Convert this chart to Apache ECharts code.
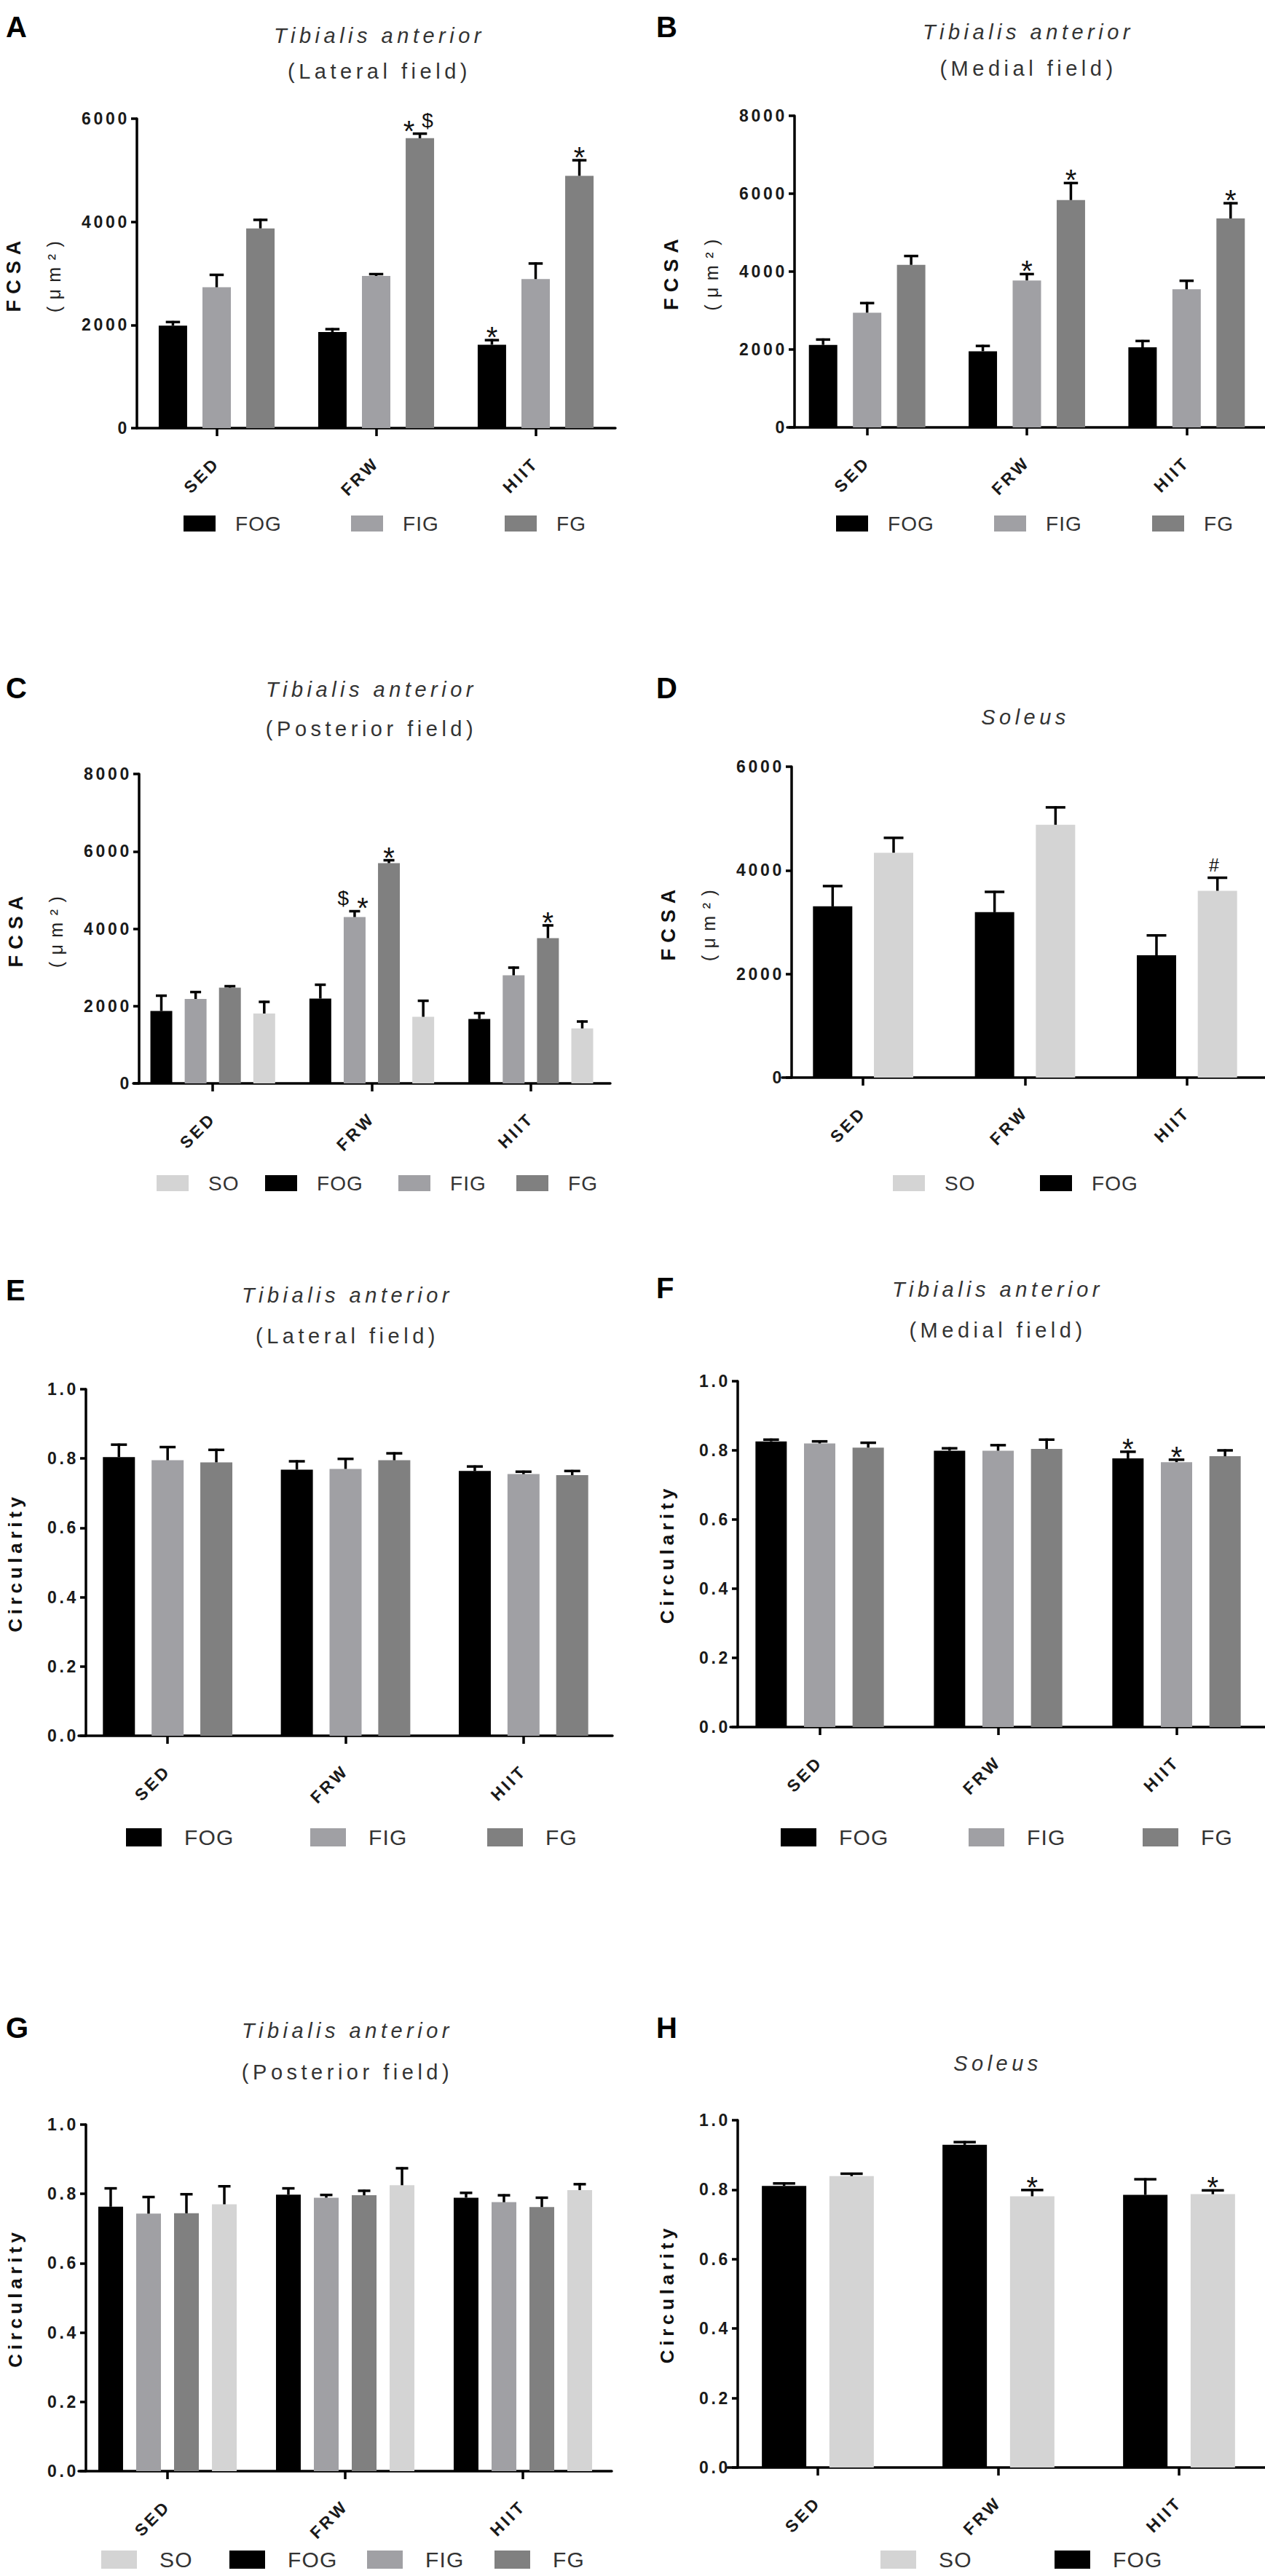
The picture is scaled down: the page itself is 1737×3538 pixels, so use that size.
<!DOCTYPE html>
<html>
<head>
<meta charset="utf-8">
<script src="https://cdn.jsdelivr.net/npm/echarts@6/dist/echarts.min.js"></script>
<style>
html,body{margin:0;padding:0;background:#fff;}
#chart{width:1737px;height:3538px;}
#chart text{letter-spacing:0.16em;}
#chart text[style*="29px"]{letter-spacing:0.19em;}
#chart text[style*="28px"]{letter-spacing:0.04em;}
#chart text[style*="30px"]{letter-spacing:0.04em;}
#chart text[style*="27px"]{letter-spacing:0.3em;}
#chart text[style*="25px"]{letter-spacing:0.38em;}
#chart text[style*="26px"]{letter-spacing:0.22em;}
#chart text[style*="40px"]{letter-spacing:0;}
</style>
</head>
<body>
<div id="chart"></div>
<script>
// ---------- data ----------
const categories = ['SED', 'FRW', 'HIIT'];
const ticksFCSA6000 = [0, 2000, 4000, 6000];
const ticksFCSA8000 = [0, 2000, 4000, 6000, 8000];
const ticksCirc = [0, 0.2, 0.4, 0.6, 0.8, 1.0];

// A: FCSA, Tibialis anterior lateral field
const A_FOG = [1988, 1864, 1617], A_FOG_err = [69, 55, 89], A_FOG_sig = ['', '', '*'];
const A_FIG = [2731, 2951, 2890], A_FIG_err = [241, 35, 302], A_FIG_sig = ['', '', ''];
const A_FG  = [3873, 5621, 4892], A_FG_err  = [165, 89, 302], A_FG_sig  = ['', '* $', '*'];

// B: FCSA, medial field
const B_FOG = [2118, 1955, 2055], B_FOG_err = [137, 136, 163], B_FOG_sig = ['', '', ''];
const B_FIG = [2945, 3773, 3545], B_FIG_err = [246, 163, 219], B_FIG_sig = ['', '*', ''];
const B_FG  = [4173, 5836, 5364], B_FG_err  = [227, 437, 391], B_FG_sig  = ['', '*', '*'];

// C: FCSA, posterior field
const C_FOG = [1873, 2193, 1666], C_FOG_err = [395, 358, 150], C_FOG_sig = ['', '', ''];
const C_FIG = [2184, 4301, 2795], C_FIG_err = [178, 151, 198], C_FIG_sig = ['', '$ *', ''];
const C_FG  = [2475, 5694, 3755], C_FG_err  = [38, 75, 330],   C_FG_sig  = ['', '*', '*'];
const C_SO  = [1807, 1722, 1421], C_SO_err  = [301, 414, 179], C_SO_sig  = ['', '', ''];

// D: FCSA, Soleus
const D_FOG = [3304, 3192, 2359], D_FOG_err = [392, 392, 385], D_FOG_sig = ['', '', ''];
const D_SO  = [4340, 4879, 3605], D_SO_err  = [287, 336, 252], D_SO_sig  = ['', '', '#'];

// E: Circularity, lateral field
const E_FOG = [0.804, 0.768, 0.764], E_FOG_err = [0.036, 0.024, 0.013], E_FOG_sig = ['', '', ''];
const E_FIG = [0.795, 0.770, 0.755], E_FIG_err = [0.038, 0.029, 0.007], E_FIG_sig = ['', '', ''];
const E_FG  = [0.789, 0.795, 0.752], E_FG_err  = [0.036, 0.020, 0.012], E_FG_sig  = ['', '', ''];

// F: Circularity, medial field
const F_FOG = [0.826, 0.799, 0.777], F_FOG_err = [0.005, 0.007, 0.019], F_FOG_sig = ['', '', '*'];
const F_FIG = [0.820, 0.799, 0.766], F_FIG_err = [0.006, 0.016, 0.007], F_FIG_sig = ['', '', '*'];
const F_FG  = [0.808, 0.804, 0.783], F_FG_err  = [0.014, 0.027, 0.017], F_FG_sig  = ['', '', ''];

// G: Circularity, posterior field
const G_FOG = [0.763, 0.798, 0.789], G_FOG_err = [0.053, 0.018, 0.014], G_FOG_sig = ['', '', ''];
const G_FIG = [0.743, 0.789, 0.776], G_FIG_err = [0.048, 0.008, 0.020], G_FIG_sig = ['', '', ''];
const G_FG  = [0.744, 0.796, 0.762], G_FG_err  = [0.055, 0.013, 0.027], G_FG_sig  = ['', '', ''];
const G_SO  = [0.770, 0.825, 0.811], G_SO_err  = [0.052, 0.049, 0.017], G_SO_sig  = ['', '', ''];

// H: Circularity, Soleus
const H_FOG = [0.811, 0.929, 0.785], H_FOG_err = [0.007, 0.008, 0.045], H_FOG_sig = ['', '', ''];
const H_SO  = [0.839, 0.781, 0.787], H_SO_err  = [0.007, 0.018, 0.011], H_SO_sig  = ['', '*', '*'];

// ---------- styles / layout ----------
const COLORS = { SO: '#d4d4d4', FOG: '#000000', FIG: '#a0a0a4', FG: '#808080' };
const FONT = "'Liberation Sans', Arial, Helvetica, sans-serif";
const SIG_STYLE = { '*': { size: 40, dy: -4 }, '$': { size: 28, dy: -18 }, '#': { size: 25, dy: -18 } };
const LEG_SMALL = { w: 44, h: 22, font: 28, pad: 22 };
const LEG_LARGE = { w: 49, h: 25, font: 30, pad: 26 };

const panels = [
  { letter: 'A', title: 'Tibialis anterior', sub: '(Lateral field)', kind: 'fcsa', ticks: ticksFCSA6000,
    series: [['FOG', A_FOG, A_FOG_err, A_FOG_sig], ['FIG', A_FIG, A_FIG_err, A_FIG_sig], ['FG', A_FG, A_FG_err, A_FG_sig]],
    legend: ['FOG', 'FIG', 'FG'],
    layout: { grid: { left: 188, top: 163, width: 657, height: 425 }, yOffset: 0, barWidth: 39, barGap: 0.54,
      titleX: 521, titleY: [49, 97], letterPos: [8, 17], legendY: 716, legendX: [252, 482, 693], leg: LEG_SMALL } },
  { letter: 'B', title: 'Tibialis anterior', sub: '(Medial field)', kind: 'fcsa', ticks: ticksFCSA8000,
    series: [['FOG', B_FOG, B_FOG_err, B_FOG_sig], ['FIG', B_FIG, B_FIG_err, B_FIG_sig], ['FG', B_FG, B_FG_err, B_FG_sig]],
    legend: ['FOG', 'FIG', 'FG'],
    layout: { grid: { left: 1081, top: 159, width: 658, height: 428 }, yOffset: -10, barWidth: 39, barGap: 0.55,
      titleX: 1412, titleY: [44, 93], letterPos: [901, 17], legendY: 716, legendX: [1148, 1365, 1582], leg: LEG_SMALL } },
  { letter: 'C', title: 'Tibialis anterior', sub: '(Posterior field)', kind: 'fcsa', ticks: ticksFCSA8000,
    series: [['FOG', C_FOG, C_FOG_err, C_FOG_sig], ['FIG', C_FIG, C_FIG_err, C_FIG_sig], ['FG', C_FG, C_FG_err, C_FG_sig], ['SO', C_SO, C_SO_err, C_SO_sig]],
    legend: ['SO', 'FOG', 'FIG', 'FG'],
    layout: { grid: { left: 183, top: 1063, width: 655, height: 425 }, yOffset: -8, barWidth: 30, barGap: 0.57,
      titleX: 510, titleY: [947, 1000], letterPos: [8, 925], legendY: 1622, legendX: [215, 364, 547, 709], leg: LEG_SMALL } },
  { letter: 'D', title: 'Soleus', sub: '', kind: 'fcsa', ticks: ticksFCSA6000,
    series: [['FOG', D_FOG, D_FOG_err, D_FOG_sig], ['SO', D_SO, D_SO_err, D_SO_sig]],
    legend: ['SO', 'FOG'],
    layout: { grid: { left: 1074, top: 1053, width: 667, height: 427 }, yOffset: -13, barWidth: 54, barGap: 0.55,
      titleX: 1408, titleY: [985], letterPos: [901, 925], legendY: 1622, legendX: [1226, 1428], leg: LEG_SMALL } },
  { letter: 'E', title: 'Tibialis anterior', sub: '(Lateral field)', kind: 'circ', ticks: ticksCirc,
    series: [['FOG', E_FOG, E_FOG_err, E_FOG_sig], ['FIG', E_FIG, E_FIG_err, E_FIG_sig], ['FG', E_FG, E_FG_err, E_FG_sig]],
    legend: ['FOG', 'FIG', 'FG'],
    layout: { grid: { left: 108, top: 1908, width: 733, height: 476 }, yOffset: -10, barWidth: 44, barGap: 0.52,
      titleX: 477, titleY: [1779, 1834], letterPos: [8, 1752], legendY: 2521, legendX: [173, 426, 669], leg: LEG_LARGE } },
  { letter: 'F', title: 'Tibialis anterior', sub: '(Medial field)', kind: 'circ', ticks: ticksCirc,
    series: [['FOG', F_FOG, F_FOG_err, F_FOG_sig], ['FIG', F_FIG, F_FIG_err, F_FIG_sig], ['FG', F_FG, F_FG_err, F_FG_sig]],
    legend: ['FOG', 'FIG', 'FG'],
    layout: { grid: { left: 1003, top: 1897, width: 735, height: 475 }, yOffset: -10, barWidth: 43, barGap: 0.55,
      titleX: 1370, titleY: [1771, 1826], letterPos: [901, 1749], legendY: 2521, legendX: [1072, 1330, 1569], leg: LEG_LARGE } },
  { letter: 'G', title: 'Tibialis anterior', sub: '(Posterior field)', kind: 'circ', ticks: ticksCirc,
    series: [['FOG', G_FOG, G_FOG_err, G_FOG_sig], ['FIG', G_FIG, G_FIG_err, G_FIG_sig], ['FG', G_FG, G_FG_err, G_FG_sig], ['SO', G_SO, G_SO_err, G_SO_sig]],
    legend: ['SO', 'FOG', 'FIG', 'FG'],
    layout: { grid: { left: 108, top: 2918, width: 732, height: 476 }, yOffset: -10, barWidth: 34, barGap: 0.53,
      titleX: 477, titleY: [2789, 2845], letterPos: [8, 2765], legendY: 3513, legendX: [139, 315, 504, 679], leg: LEG_LARGE } },
  { letter: 'H', title: 'Soleus', sub: '', kind: 'circ', ticks: ticksCirc,
    series: [['FOG', H_FOG, H_FOG_err, H_FOG_sig], ['SO', H_SO, H_SO_err, H_SO_sig]],
    legend: ['SO', 'FOG'],
    layout: { grid: { left: 999, top: 2912, width: 744, height: 477 }, yOffset: -14, barWidth: 61, barGap: 0.52,
      titleX: 1370, titleY: [2834], letterPos: [901, 2765], legendY: 3513, legendX: [1209, 1448], leg: LEG_LARGE } }
];

// ---------- build option ----------
const option = {
  animation: false,
  backgroundColor: '#ffffff',
  textStyle: { fontFamily: FONT },
  title: [], legend: [], grid: [], xAxis: [], yAxis: [], series: []
};

panels.forEach((p, pi) => {
  const L = p.layout;
  option.grid.push(Object.assign({ containLabel: false, outerBoundsMode: 'none' }, L.grid));

  option.title.push({
    text: p.letter, left: L.letterPos[0], top: L.letterPos[1], padding: 0,
    textStyle: { fontSize: 40, fontWeight: 'bold', color: '#000', fontFamily: FONT, lineHeight: 40 }
  });
  const t = {
    text: p.title, left: L.titleX, top: L.titleY[0] - 14, padding: 0, textAlign: 'center',
    textStyle: { fontSize: 29, fontStyle: 'italic', fontWeight: 'normal', color: '#333', fontFamily: FONT, lineHeight: 28 }
  };
  if (p.sub) {
    t.subtext = p.sub;
    t.itemGap = L.titleY[1] - L.titleY[0] - 28;
    t.subtextStyle = { fontSize: 29, color: '#333', fontFamily: FONT, lineHeight: 28 };
  }
  option.title.push(t);

  const lg = L.leg;
  p.legend.forEach((nm, j) => {
    option.legend.push({
      data: [nm], left: L.legendX[j], top: L.legendY - lg.h / 2, padding: 0,
      icon: 'rect', itemWidth: lg.w, itemHeight: lg.h, selectedMode: false,
      textStyle: { fontSize: lg.font, color: '#333', fontFamily: FONT, padding: [0, 0, 0, lg.pad] }
    });
  });

  option.xAxis.push({
    type: 'category', gridIndex: pi, data: categories,
    axisLine: { show: true, lineStyle: { color: '#000', width: 3.5 } },
    axisTick: { show: true, alignWithLabel: true, length: 11, lineStyle: { color: '#000', width: 3.5 } },
    axisLabel: { interval: 0, rotate: 45, margin: 44, fontSize: 23, fontWeight: 'bold', color: '#1a1a1a', fontFamily: FONT },
    splitLine: { show: false }
  });

  const isF = p.kind === 'fcsa';
  const y = {
    type: 'value', gridIndex: pi, offset: L.yOffset,
    min: p.ticks[0], max: p.ticks[p.ticks.length - 1], interval: p.ticks[1] - p.ticks[0],
    axisLine: { show: true, lineStyle: { color: '#000', width: 3.5 } },
    axisTick: { show: true, length: 8, lineStyle: { color: '#000', width: 3.5 } },
    splitLine: { show: false },
    axisLabel: { fontSize: 23, fontWeight: 'bold', color: '#1a1a1a', margin: 10, fontFamily: FONT,
      formatter: isF ? (v => String(v)) : (v => v.toFixed(1)) },
    nameLocation: 'middle', nameRotate: 90
  };
  if (isF) {
    y.name = '{b|FCSA}\n{n|(\u03BCm\u00B2)}';
    y.nameGap = 88;
    y.nameTextStyle = { rich: {
      b: { fontSize: 27, fontWeight: 'bold', color: '#111', lineHeight: 58, fontFamily: FONT },
      n: { fontSize: 25, fontWeight: 'normal', color: '#222', lineHeight: 52, fontFamily: FONT }
    } };
  } else {
    y.name = 'Circularity';
    y.nameGap = 84;
    y.nameTextStyle = { fontSize: 26, fontWeight: 'bold', color: '#111', fontFamily: FONT, lineHeight: 26 };
  }
  option.yAxis.push(y);

  const n = p.series.length;
  p.series.forEach((s, k) => {
    const [name, vals, errs, sigs] = s;
    option.series.push({
      type: 'bar', name: name, xAxisIndex: pi, yAxisIndex: pi,
      data: vals, barWidth: L.barWidth, barGap: (L.barGap * 100) + '%',
      itemStyle: { color: COLORS[name] }, emphasis: { disabled: true }, silent: true, z: 2
    });
    const offset = (k - (n - 1) / 2) * L.barWidth * (1 + L.barGap);
    const cap = L.barWidth * 0.5;
    option.series.push({
      type: 'custom', name: name + ' SEM', xAxisIndex: pi, yAxisIndex: pi, silent: true, z: 3,
      data: vals.map((v, i) => [i, v, v + errs[i]]),
      renderItem: function (params, api) {
        const idx = api.value(0);
        const base = api.coord([idx, api.value(1)]);
        const top = api.coord([idx, api.value(2)]);
        const x = base[0] + offset;
        const children = [
          { type: 'line', shape: { x1: x, y1: base[1], x2: x, y2: top[1] - 1.5 }, style: { stroke: '#000', lineWidth: 3.5 } },
          { type: 'line', shape: { x1: x - cap / 2, y1: top[1], x2: x + cap / 2, y2: top[1] }, style: { stroke: '#000', lineWidth: 3.5 } }
        ];
        const sig = sigs[params.dataIndex];
        if (sig) {
          const toks = sig.split(' ');
          const shifts = toks.length === 1 ? [0] : [-15, 11];
          toks.forEach((tk, ti) => {
            const st = SIG_STYLE[tk] || { size: 34, dy: -14 };
            children.push({ type: 'text', style: { text: tk, x: x + shifts[ti], y: top[1] + st.dy,
              align: 'center', verticalAlign: 'middle', fontSize: st.size, fontFamily: FONT, fill: '#111' } });
          });
        }
        return { type: 'group', children: children };
      }
    });
  });
});

const chart = echarts.init(document.getElementById('chart'), null, { renderer: 'svg' });
chart.setOption(option);
</script>
</body>
</html>
